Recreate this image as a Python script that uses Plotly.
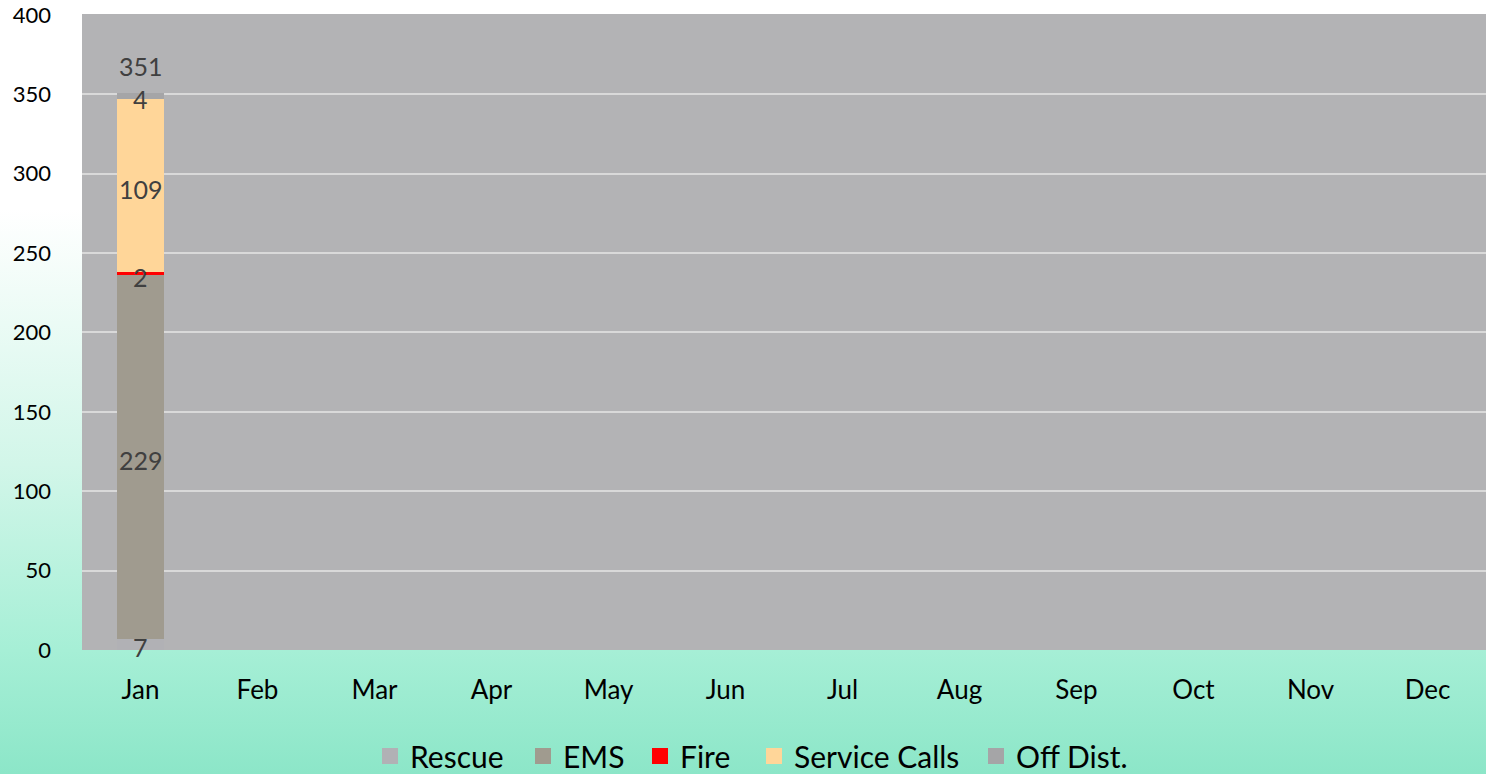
import base64
import plotly.graph_objects as go

months = ["Jan", "Feb", "Mar", "Apr", "May", "Jun", "Jul", "Aug", "Sep", "Oct", "Nov", "Dec"]
rescue = [7] + [None] * 11
ems = [229] + [None] * 11
fire = [2] + [None] * 11
service_calls = [109] + [None] * 11
off_dist = [4] + [None] * 11

series = [
    ("Rescue", rescue, "#b1b1b5"),
    ("EMS", ems, "#a09b8f"),
    ("Fire", fire, "#ff0000"),
    ("Service Calls", service_calls, "#ffd699"),
    ("Off Dist.", off_dist, "#a5a5a7"),
]
# left pixel position of each legend entry (layout only)
legend_px = [382, 535, 652, 766, 988]

W, H = 1486, 774
ML, MR, MT, MB = 82, 0, 14, 124
PW, PH = W - ML - MR, H - MT - MB

fig = go.Figure()
for name, vals, color in series:
    fig.add_trace(go.Bar(
        x=months, y=vals, name=name, marker=dict(color=color, line=dict(width=0)),
        width=0.41, showlegend=False,
    ))
# legend entries with larger square swatches, each in its own legend box
legend_layout = {}
for k, ((name, vals, color), px) in enumerate(zip(series, legend_px)):
    lid = "legend" if k == 0 else f"legend{k + 1}"
    fig.add_trace(go.Scatter(
        x=[None], y=[None], mode="markers", name=name, legend=lid,
        marker=dict(symbol="square", size=17, color=color),
    ))
    legend_layout[lid] = dict(orientation="h", xref="container", yref="paper",
                              x=(px - 12) / W, xanchor="left",
                              y=-(MB + 8) / PH, yanchor="bottom",
                              font=dict(family="Lato", size=30, color="#000000"),
                              itemwidth=30, bgcolor="rgba(0,0,0,0)")

# segment labels + total
annotations = []
for i, m in enumerate(months):
    base = 0
    have = False
    for name, vals, color in series:
        v = vals[i]
        if v is None:
            continue
        have = True
        annotations.append(dict(x=m, y=base + v / 2, text=str(v), showarrow=False,
                                xref="x", yref="y", yshift=-3,
                                font=dict(family="Lato", size=25, color="#404040")))
        base += v
    if have:
        annotations.append(dict(x=m, y=base, text=str(base), showarrow=False,
                                xref="x", yref="y", yanchor="bottom", yshift=10,
                                font=dict(family="Lato", size=25, color="#404040")))

svg = f'''<svg xmlns="http://www.w3.org/2000/svg" width="{W}" height="{H}" preserveAspectRatio="none">
<defs><linearGradient id="g" x1="0" y1="0" x2="0" y2="1">
<stop offset="0" stop-color="#ffffff"/>
<stop offset="0.27" stop-color="#ffffff"/>
<stop offset="0.6" stop-color="#d2f6e9"/>
<stop offset="0.84" stop-color="#a6efd6"/>
<stop offset="1" stop-color="#8ce6c8"/>
</linearGradient></defs>
<rect x="0" y="0" width="{W}" height="{H}" fill="url(#g)"/></svg>'''
src = "data:image/svg+xml;base64," + base64.b64encode(svg.encode()).decode()

fig.update_layout(
    width=W, height=H,
    barmode="stack",
    margin=dict(l=ML, r=MR, t=MT, b=MB, pad=0, autoexpand=False),
    paper_bgcolor="#ffffff",
    plot_bgcolor="#b3b3b5",
    font=dict(family="Lato", color="#000000"),
    annotations=annotations,
    images=[dict(source=src, xref="paper", yref="paper",
                 x=-ML / PW, y=1 + MT / PH, sizex=W / PW, sizey=H / PH,
                 xanchor="left", yanchor="top", sizing="stretch", layer="below")],
    shapes=[dict(type="rect", xref="paper", yref="paper", x0=0, x1=1, y0=0, y1=1,
                 fillcolor="#b3b3b5", line=dict(width=0), layer="below")],
    bargap=0.59,
    **legend_layout,
)
fig.update_xaxes(showgrid=False, zeroline=False, showline=False, ticks="",
                 tickfont=dict(family="Lato", size=26, color="#000000"),
                 ticklabelstandoff=22, automargin=False)
fig.update_yaxes(range=[0, 400.6], tickvals=[0, 50, 100, 150, 200, 250, 300, 350, 400],
                 showgrid=True, gridcolor="#d9d9d9", gridwidth=2,
                 zeroline=False, showline=False, ticks="",
                 tickfont=dict(family="Lato", size=22, color="#000000"),
                 ticklabelstandoff=30, automargin=False, ticklabeloverflow="allow")

fig.write_html("out.html", post_script="document.body.style.margin='0';",
               config={"displayModeBar": False})
